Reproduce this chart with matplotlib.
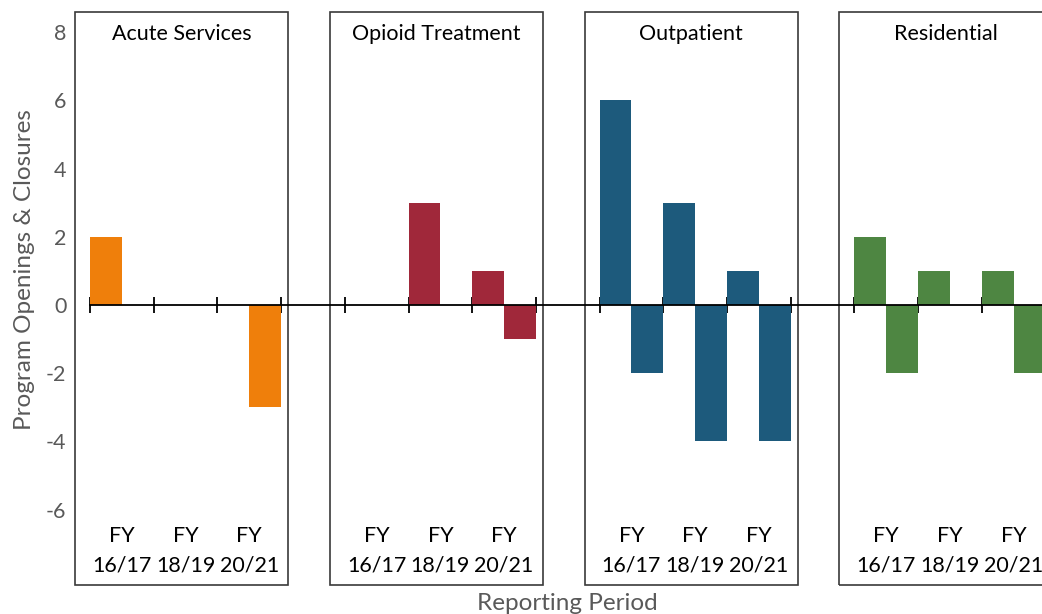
import matplotlib
matplotlib.use("Agg")
import matplotlib.pyplot as plt
from matplotlib.patches import Rectangle

plt.rcParams["font.family"] = ["Lato", "DejaVu Sans"]
plt.rcParams["axes.unicode_minus"] = False

# --- data ---
groups = ["Acute Services", "Opioid Treatment", "Outpatient", "Residential"]
periods = ["FY\n16/17", "FY\n18/19", "FY\n20/21"]
acute_open = [2, 0, 0]
acute_close = [0, 0, -3]
opioid_open = [0, 3, 1]
opioid_close = [0, 0, -1]
outpatient_open = [6, 3, 1]
outpatient_close = [-2, -4, -4]
residential_open = [2, 1, 1]
residential_close = [-2, 0, -2]
colors = ["#EF7F0B", "#A0283A", "#1D5A7C", "#4E8642"]

openings = [acute_open, opioid_open, outpatient_open, residential_open]
closures = [acute_close, opioid_close, outpatient_close, residential_close]

W, H = 1042, 614
fig = plt.figure(figsize=(W / 100, H / 100), dpi=100)

# axes placed so x boundary -0.5 sits at px 90, y=0 at px 305
px_x0, px_unit = 90.0, 63.7
px_y0, py_unit = 305.0, 34.1
ylo, yhi = -8.5, 8.7
left = px_x0 / W
width = 15 * px_unit / W
top_px = px_y0 - yhi * py_unit
bot_px = px_y0 - ylo * py_unit
ax = fig.add_axes([left, 1 - bot_px / H, width, (bot_px - top_px) / H])
ax.set_xlim(-0.5, 14.5)
ax.set_ylim(ylo, yhi)

gray = "#595959"
bw = 0.5
for g, name in enumerate(groups):
    start = g * 4  # 3 periods + 1 empty slot between groups
    xs = [start + i for i in range(len(periods))]
    ax.bar([x - bw / 2 for x in xs], openings[g], width=bw, color=colors[g], zorder=2)
    ax.bar([x + bw / 2 for x in xs], closures[g], width=bw, color=colors[g], zorder=2)
    for x, lab in zip(xs, periods):
        ax.text(x, -7.2, lab, ha="center", va="center", fontsize=15.5,
                linespacing=1.6, color="black")
    # group frame
    bl = start - 0.5 - 0.235
    br = start + 2.5 + 0.11
    ax.add_patch(Rectangle((bl, -8.21), br - bl, 8.59 + 8.21, fill=False,
                           edgecolor="#3a3a3a", linewidth=1.2, clip_on=False, zorder=3))
    ax.text((bl + br) / 2, 7.95, name, ha="center", va="center", fontsize=15.5,
            color="black")

# zero axis line with crossing ticks at category boundaries
ax.spines[["left", "right", "top"]].set_visible(False)
ax.spines["bottom"].set_position(("data", 0))
ax.spines["bottom"].set_linewidth(1.3)
ax.spines["bottom"].set_zorder(4)
ax.set_xticks([b - 0.5 for b in range(16)])
ax.tick_params(axis="x", direction="inout", length=11, width=1.3, labelbottom=False)
ax.set_yticks(range(-6, 9, 2))
ax.tick_params(axis="y", length=0, pad=17, labelsize=15.5, labelcolor=gray)

fig.text(25 / W, 1 - 270 / H, "Program Openings & Closures", rotation=90,
         ha="center", va="center", fontsize=17.5, color=gray)
fig.text(567 / W, 1 - 603 / H, "Reporting Period", ha="center", va="center",
         fontsize=17.5, color=gray)

fig.savefig("out.png", dpi=100)
